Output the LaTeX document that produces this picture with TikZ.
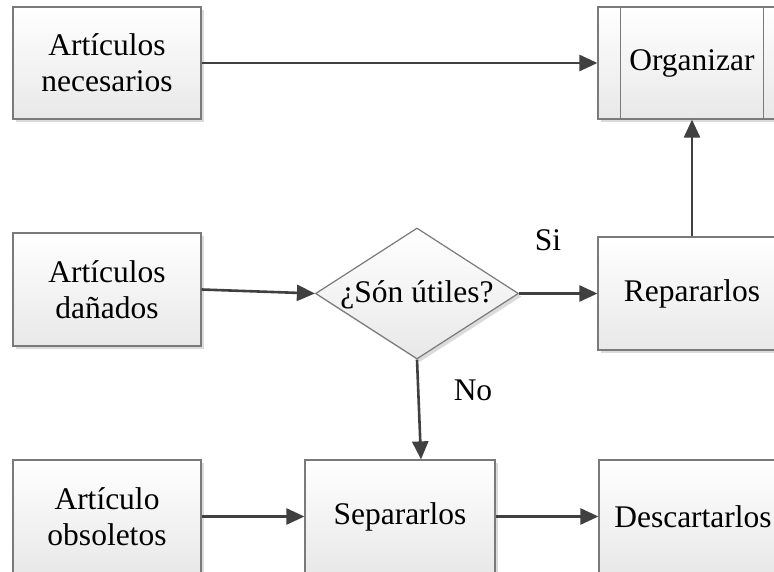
\documentclass[tikz,border=0pt]{standalone}
\usepackage{fontspec}
\setmainfont{Liberation Serif}
\usetikzlibrary{arrows.meta,shapes.geometric,shadows}
\definecolor{arrowc}{HTML}{404040}
\definecolor{borderc}{HTML}{7A7A7A}
\tikzset{
  boxsty/.style={draw=borderc, line width=1.2pt, rectangle, top color=white, bottom color=black!9,
    drop shadow={shadow xshift=3pt, shadow yshift=-3pt, fill=black!14, opacity=1},
    align=center, inner sep=0pt, font=\fontsize{31.5}{36}\selectfont},
  decsty/.style={draw=borderc, line width=1.2pt, diamond, top color=white, bottom color=black!9,
    drop shadow={shadow xshift=3pt, shadow yshift=-3pt, fill=black!14, opacity=1},
    inner sep=0pt, minimum width=203pt, minimum height=131pt},
  txt/.style={font=\fontsize{31.5}{36}\selectfont, inner sep=0pt},
  flow/.style={draw=arrowc, line width=2.6pt, -{Triangle[length=18pt,width=16pt]}},
}
\begin{document}
\begin{tikzpicture}[x=1pt,y=-1pt]
\useasboundingbox (0,0) rectangle (774,572);
\clip (0,0) rectangle (774,572);
\fill[white] (0,0) rectangle (774,572);
% boxes
\node[boxsty, minimum width=188pt, minimum height=112pt] (nec) at (107,63) {Artículos\\necesarios};
\node[boxsty, minimum width=188pt, minimum height=113pt] (dan) at (107,289.5) {Artículos\\dañados};
\node[boxsty, minimum width=188pt, minimum height=113pt] (obs) at (107,516.5) {Artículo\\obsoletos};
\node[boxsty, minimum width=188pt, minimum height=112pt] (org) at (692,63) {Organizar};
\draw[borderc, line width=1.2pt] ([xshift=23pt]org.north west) -- ([xshift=23pt]org.south west);
\draw[borderc, line width=1.2pt] ([xshift=-23pt]org.north east) -- ([xshift=-23pt]org.south east);
\node[boxsty, minimum width=188pt, minimum height=113pt] (rep) at (692,293.5) {Repararlos};
\node[boxsty, minimum width=190pt, minimum height=113pt] (sep) at (400,516.5) {Separarlos};
\node[boxsty, minimum width=188pt, minimum height=113pt] (des) at (693,516.5) {Descartarlos};
% decision
\node[decsty] (q) at (417,293.5) {};
\node[txt] (qt) at (417,295) {¿Són útiles?};
% labels
\node[txt] (si) at (548,240) {Si};
\node[txt] (no) at (473,390) {No};
% connectors
\draw[flow] (nec.east) -- (org.west);
\draw[flow] (dan.east) -- (q.west);
\draw[flow] (q.east) -- (rep.west);
\draw[flow] (rep.north) -- (org.south);
\draw[flow] (q.south) -- ([xshift=21pt]sep.north);
\draw[flow] (obs.east) -- (sep.west);
\draw[flow] (sep.east) -- (des.west);
\end{tikzpicture}
\end{document}
